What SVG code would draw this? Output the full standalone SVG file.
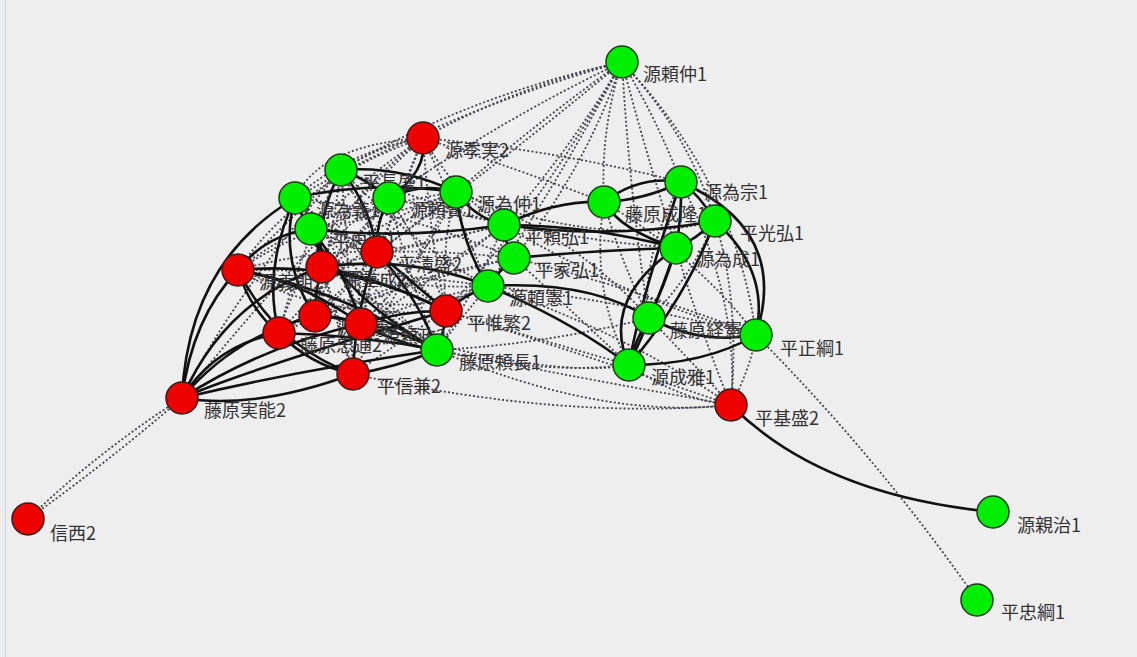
<svg xmlns="http://www.w3.org/2000/svg" width="1137" height="657" viewBox="0 0 1137 657">
<style>
.s{fill:none;stroke:#111;stroke-width:2.6}
.d{fill:none;stroke:#484450;stroke-width:1.8;stroke-dasharray:2 2.2}
.g{fill:#00ee00;stroke:#1a3a1a;stroke-width:1.5}
.r{fill:#ee0000;stroke:#3a1a1a;stroke-width:1.5}
text{font-family:"Noto Sans CJK JP","Noto Sans CJK SC",sans-serif;font-size:18px;fill:#333}
</style>
<rect x="0" y="0" width="1137" height="657" fill="#eeeeee"/>
<line x1="5.5" y1="0" x2="5.5" y2="657" stroke="#c8d6ea" stroke-width="1"/>
<g id="connectors">
<g id="dotted">
<path class="d" d="M622,62 Q520,85 423,138"/>
<path class="d" d="M622,62 Q470,95 341,170"/>
<path class="d" d="M622,62 Q450,110 295,198"/>
<path class="d" d="M622,62 Q500,120 389,198"/>
<path class="d" d="M622,62 Q540,120 456,192"/>
<path class="d" d="M622,62 Q570,150 504,225"/>
<path class="d" d="M622,62 Q585,170 514,258"/>
<path class="d" d="M622,62 Q560,180 488,286"/>
<path class="d" d="M622,62 Q600,130 604,202"/>
<path class="d" d="M622,62 Q655,115 681,182"/>
<path class="d" d="M622,62 Q690,135 715,221"/>
<path class="d" d="M622,62 Q645,150 676,248"/>
<path class="d" d="M622,62 Q735,180 756,335"/>
<path class="d" d="M622,62 Q630,200 649,318"/>
<path class="d" d="M622,62 Q505,160 377,252"/>
<path class="d" d="M622,62 Q545,200 446,311"/>
<path class="d" d="M423,138 Q350,150 295,198"/>
<path class="d" d="M423,138 Q380,145 341,170"/>
<path class="d" d="M423,138 Q360,180 311,229"/>
<path class="d" d="M423,138 Q300,180 238,270"/>
<path class="d" d="M423,138 Q555,150 681,182"/>
<path class="d" d="M423,138 Q520,170 604,202"/>
<path class="d" d="M423,138 Q460,200 504,225"/>
<path class="d" d="M423,138 Q400,200 377,252"/>
<path class="d" d="M423,138 Q340,200 322,267"/>
<path class="d" d="M423,138 Q470,240 488,286"/>
<path class="d" d="M295,198 Q320,145 423,138"/>
<path class="d" d="M295,198 Q370,260 446,311"/>
<path class="d" d="M295,198 Q380,300 437,350"/>
<path class="d" d="M295,198 Q330,230 377,252"/>
<path class="d" d="M341,170 Q380,250 446,311"/>
<path class="d" d="M341,170 Q420,250 488,286"/>
<path class="d" d="M341,170 Q330,250 315,316"/>
<path class="d" d="M341,170 Q300,250 279,333"/>
<path class="d" d="M341,170 Q350,270 353,374"/>
<path class="d" d="M389,198 Q330,260 315,316"/>
<path class="d" d="M389,198 Q300,250 279,333"/>
<path class="d" d="M389,198 Q350,280 361,324"/>
<path class="d" d="M389,198 Q430,260 446,311"/>
<path class="d" d="M389,198 Q410,280 437,350"/>
<path class="d" d="M389,198 Q300,220 238,270"/>
<path class="d" d="M456,192 Q380,220 322,267"/>
<path class="d" d="M456,192 Q360,240 279,333"/>
<path class="d" d="M456,192 Q420,270 361,324"/>
<path class="d" d="M456,192 Q440,250 446,311"/>
<path class="d" d="M456,192 Q390,300 353,374"/>
<path class="d" d="M456,192 Q330,210 238,270"/>
<path class="d" d="M504,225 Q400,250 322,267"/>
<path class="d" d="M504,225 Q420,290 361,324"/>
<path class="d" d="M504,225 Q400,300 315,316"/>
<path class="d" d="M504,225 Q470,300 437,350"/>
<path class="d" d="M514,258 Q400,280 315,316"/>
<path class="d" d="M514,258 Q420,330 353,374"/>
<path class="d" d="M514,258 Q380,290 279,333"/>
<path class="d" d="M488,286 Q380,270 238,270"/>
<path class="d" d="M311,229 Q390,260 446,311"/>
<path class="d" d="M311,229 Q380,320 437,350"/>
<path class="d" d="M311,229 Q330,300 353,374"/>
<path class="d" d="M311,229 Q340,230 377,252"/>
<path class="d" d="M238,270 Q310,250 377,252"/>
<path class="d" d="M238,270 Q320,320 446,311"/>
<path class="d" d="M377,252 Q340,300 279,333"/>
<path class="d" d="M377,252 Q350,290 315,316"/>
<path class="d" d="M322,267 Q380,300 437,350"/>
<path class="d" d="M322,267 Q340,320 353,374"/>
<path class="d" d="M341,170 Q420,200 504,225"/>
<path class="d" d="M295,198 Q400,210 514,258"/>
<path class="d" d="M311,229 Q400,215 456,192"/>
<path class="d" d="M238,270 Q400,330 488,286"/>
<path class="d" d="M341,170 Q290,220 238,270"/>
<path class="d" d="M295,198 Q340,240 361,324"/>
<path class="d" d="M389,198 Q360,240 322,267"/>
<path class="d" d="M456,192 Q410,230 377,252"/>
<path class="d" d="M504,225 Q440,240 377,252"/>
<path class="d" d="M514,258 Q440,250 377,252"/>
<path class="d" d="M488,286 Q420,300 361,324"/>
<path class="d" d="M488,286 Q400,290 322,267"/>
<path class="d" d="M488,286 Q460,320 437,350"/>
<path class="d" d="M341,170 Q390,230 361,324"/>
<path class="d" d="M423,138 Q430,240 446,311"/>
<path class="d" d="M423,138 Q380,240 361,324"/>
<path class="d" d="M437,350 Q590,380 731,405"/>
<path class="d" d="M437,350 Q540,375 629,365"/>
<path class="d" d="M437,350 Q540,345 649,318"/>
<path class="d" d="M446,311 Q600,360 731,405"/>
<path class="d" d="M446,311 Q540,340 629,365"/>
<path class="d" d="M488,286 Q620,330 731,405"/>
<path class="d" d="M488,286 Q620,300 756,335"/>
<path class="d" d="M514,258 Q640,290 756,335"/>
<path class="d" d="M514,258 Q560,300 629,365"/>
<path class="d" d="M353,374 Q560,420 731,405"/>
<path class="d" d="M361,324 Q550,380 629,365"/>
<path class="d" d="M437,350 Q600,420 731,405"/>
<path class="d" d="M504,225 Q630,300 756,335"/>
<path class="d" d="M456,192 Q600,250 715,221"/>
<path class="d" d="M389,198 Q560,240 676,248"/>
<path class="d" d="M456,192 Q570,230 649,318"/>
<path class="d" d="M182,398 Q300,250 423,138"/>
<path class="d" d="M182,398 Q230,300 341,170"/>
<path class="d" d="M182,398 Q100,450 28,519"/>
<path class="d" d="M182,398 Q108,462 28,519"/>
<path class="d" d="M731,405 Q740,300 715,221"/>
<path class="d" d="M731,405 Q700,330 676,248"/>
<path class="d" d="M731,405 Q690,360 649,318"/>
<path class="d" d="M731,405 Q750,370 756,335"/>
<path class="d" d="M731,405 Q680,400 629,365"/>
<path class="d" d="M681,182 Q640,260 649,318"/>
<path class="d" d="M715,221 Q690,280 649,318"/>
<path class="d" d="M604,202 Q620,260 649,318"/>
<path class="d" d="M604,202 Q700,260 756,335"/>
<path class="d" d="M604,202 Q590,290 629,365"/>
<path class="d" d="M681,182 Q740,300 731,405"/>
<path class="d" d="M756,335 Q880,460 977,600"/>
</g>
<g id="solid">
<path class="s" d="M182,398 Q192,318 238,270"/>
<path class="s" d="M182,398 Q188,262 295,198"/>
<path class="s" d="M182,398 Q215,345 279,333"/>
<path class="s" d="M182,398 Q235,335 315,316"/>
<path class="s" d="M182,398 Q255,410 353,374"/>
<path class="s" d="M182,398 Q300,370 437,350"/>
<path class="s" d="M182,398 Q265,345 361,324"/>
<path class="s" d="M182,398 Q225,300 322,267"/>
<path class="s" d="M182,398 Q240,372 446,311"/>
<path class="s" d="M238,270 Q275,345 353,374"/>
<path class="s" d="M238,270 Q340,290 437,350"/>
<path class="s" d="M238,270 Q300,280 361,324"/>
<path class="s" d="M238,270 Q265,235 311,229"/>
<path class="s" d="M238,270 Q350,260 446,311"/>
<path class="s" d="M238,270 Q250,310 279,333"/>
<path class="s" d="M279,333 Q310,365 353,374"/>
<path class="s" d="M279,333 Q360,335 437,350"/>
<path class="s" d="M315,316 Q380,320 437,350"/>
<path class="s" d="M361,324 Q400,345 437,350"/>
<path class="s" d="M322,267 Q385,280 446,311"/>
<path class="s" d="M322,267 Q410,255 488,286"/>
<path class="s" d="M341,170 Q315,220 322,267"/>
<path class="s" d="M341,170 Q370,205 377,252"/>
<path class="s" d="M341,170 Q365,178 389,198"/>
<path class="s" d="M295,198 Q278,260 315,316"/>
<path class="s" d="M295,198 Q300,215 311,229"/>
<path class="s" d="M295,198 Q262,270 279,333"/>
<path class="s" d="M389,198 Q375,225 377,252"/>
<path class="s" d="M389,198 Q420,182 456,192"/>
<path class="s" d="M423,138 Q428,172 389,198"/>
<path class="s" d="M341,170 Q400,165 456,192"/>
<path class="s" d="M311,229 Q320,250 322,267"/>
<path class="s" d="M311,229 Q345,270 361,324"/>
<path class="s" d="M456,192 Q475,218 504,225"/>
<path class="s" d="M456,192 Q462,245 488,286"/>
<path class="s" d="M504,225 Q505,245 514,258"/>
<path class="s" d="M514,258 Q500,270 488,286"/>
<path class="s" d="M488,286 Q465,295 446,311"/>
<path class="s" d="M377,252 Q410,280 446,311"/>
<path class="s" d="M377,252 Q420,300 437,350"/>
<path class="s" d="M322,267 Q315,290 315,316"/>
<path class="s" d="M315,316 Q335,315 361,324"/>
<path class="s" d="M361,324 Q405,310 446,311"/>
<path class="s" d="M295,198 Q330,290 437,350"/>
<path class="s" d="M353,374 Q395,368 437,350"/>
<path class="s" d="M377,252 Q355,310 353,374"/>
<path class="s" d="M295,198 Q370,180 456,192"/>
<path class="s" d="M311,229 Q400,240 504,225"/>
<path class="s" d="M437,350 Q445,330 446,311"/>
<path class="s" d="M279,333 Q290,320 315,316"/>
<path class="s" d="M504,225 Q590,225 676,248"/>
<path class="s" d="M504,225 Q555,200 604,202"/>
<path class="s" d="M514,258 Q600,250 676,248"/>
<path class="s" d="M504,225 Q610,240 715,221"/>
<path class="s" d="M488,286 Q590,280 649,318"/>
<path class="s" d="M488,286 Q570,320 629,365"/>
<path class="s" d="M604,202 Q640,175 681,182"/>
<path class="s" d="M604,202 Q645,200 681,182"/>
<path class="s" d="M681,182 Q682,215 676,248"/>
<path class="s" d="M681,182 Q700,195 715,221"/>
<path class="s" d="M715,221 Q695,240 676,248"/>
<path class="s" d="M676,248 Q665,285 649,318"/>
<path class="s" d="M676,248 Q655,310 629,365"/>
<path class="s" d="M681,182 Q640,300 629,365"/>
<path class="s" d="M715,221 Q685,300 629,365"/>
<path class="s" d="M649,318 Q635,340 629,365"/>
<path class="s" d="M649,318 Q700,345 756,335"/>
<path class="s" d="M715,221 Q770,270 756,335"/>
<path class="s" d="M681,182 Q790,230 756,335"/>
<path class="s" d="M629,365 Q705,365 756,335"/>
<path class="s" d="M676,248 Q600,300 629,365"/>
<path class="s" d="M604,202 Q620,230 676,248"/>
<path class="s" d="M731,405 Q820,495 993,512"/>
</g>
</g>
<g id="n-genraichu"><circle class="g" cx="622" cy="62" r="16"/><text x="643" y="81">源頼仲1</text></g>
<g id="n-suezane"><circle class="r" cx="423" cy="138" r="16"/><text x="445" y="157">源季実2</text></g>
<g id="n-nagamori"><circle class="g" cx="341" cy="170" r="16"/><text x="362" y="189">平長盛1</text></g>
<g id="n-tameyoshi"><circle class="g" cx="295" cy="198" r="16"/><text x="316" y="217">源為義1</text></g>
<g id="n-yorikata"><circle class="g" cx="389" cy="198" r="16"/><text x="410" y="217">源頼賢1</text></g>
<g id="n-tamenaka"><circle class="g" cx="456" cy="192" r="16"/><text x="477" y="211">源為仲1</text></g>
<g id="n-tadamasa"><circle class="g" cx="311" cy="229" r="16"/><text x="332" y="248">平忠正1</text></g>
<g id="n-yorihiro"><circle class="g" cx="504" cy="225" r="16"/><text x="525" y="244">平頼弘1</text></g>
<g id="n-kiyomori"><circle class="r" cx="377" cy="252" r="16"/><text x="398" y="271">平清盛2</text></g>
<g id="n-ienhiro"><circle class="g" cx="514" cy="258" r="16"/><text x="535" y="277">平家弘1</text></g>
<g id="n-yoshitomo"><circle class="r" cx="238" cy="270" r="16"/><text x="259" y="289">源義朝2</text></g>
<g id="n-shigenari"><circle class="r" cx="322" cy="267" r="16"/><text x="343" y="286">源重成2</text></g>
<g id="n-yorinori"><circle class="g" cx="488" cy="286" r="16"/><text x="509" y="305">源頼憲1</text></g>
<g id="n-yoshiyasu"><circle class="r" cx="315" cy="316" r="16"/><text x="336" y="335">源義康2</text></g>
<g id="n-tadamichi"><circle class="r" cx="279" cy="333" r="16"/><text x="300" y="352">藤原忠通2</text></g>
<g id="n-yorimasa"><circle class="r" cx="361" cy="324" r="16"/><text x="382" y="343">源頼政2</text></g>
<g id="n-koreshige"><circle class="r" cx="446" cy="311" r="16"/><text x="467" y="330">平惟繁2</text></g>
<g id="n-yorinaga"><circle class="g" cx="437" cy="350" r="16"/><text x="459" y="369">藤原頼長1</text></g>
<g id="n-nobukane"><circle class="r" cx="353" cy="374" r="16"/><text x="377" y="393">平信兼2</text></g>
<g id="n-sanetoshi"><circle class="r" cx="182" cy="398" r="16"/><text x="204" y="417">藤原実能2</text></g>
<g id="n-shinzei"><circle class="r" cx="28" cy="519" r="16"/><text x="50" y="540">信西2</text></g>
<g id="n-naritaka"><circle class="g" cx="604" cy="202" r="16"/><text x="625" y="221">藤原成隆1</text></g>
<g id="n-tamemune"><circle class="g" cx="681" cy="182" r="16"/><text x="704" y="199">源為宗1</text></g>
<g id="n-tamenari"><circle class="g" cx="676" cy="248" r="16"/><text x="696" y="266">源為成1</text></g>
<g id="n-mitsuhiro"><circle class="g" cx="715" cy="221" r="16"/><text x="740" y="240">平光弘1</text></g>
<g id="n-tsunenori"><circle class="g" cx="649" cy="318" r="16"/><text x="670" y="337">藤原経憲1</text></g>
<g id="n-masatsuna"><circle class="g" cx="756" cy="335" r="16"/><text x="780" y="355">平正綱1</text></g>
<g id="n-narimasa"><circle class="g" cx="629" cy="365" r="16"/><text x="651" y="384">源成雅1</text></g>
<g id="n-motomori"><circle class="r" cx="731" cy="405" r="16"/><text x="755" y="425">平基盛2</text></g>
<g id="n-chikaharu"><circle class="g" cx="993" cy="512" r="16"/><text x="1017" y="532">源親治1</text></g>
<g id="n-tadatsuna"><circle class="g" cx="977" cy="600" r="16"/><text x="1001" y="619">平忠綱1</text></g>
</svg>
